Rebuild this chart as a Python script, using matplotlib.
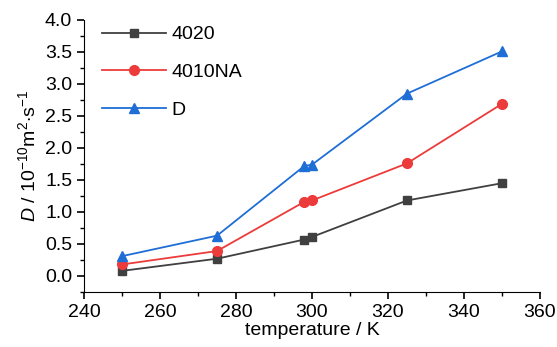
import matplotlib

matplotlib.use("Agg")

import matplotlib.pyplot as plt
from matplotlib.ticker import MultipleLocator, FormatStrFormatter

plt.rcParams["font.family"] = ["Liberation Sans", "DejaVu Sans"]
plt.rcParams["mathtext.fontset"] = "custom"
plt.rcParams["mathtext.rm"] = "Liberation Sans"
plt.rcParams["mathtext.it"] = "Liberation Sans:italic"

temperature = [250, 275, 298, 300, 325, 350]
d_4020 = [0.08, 0.27, 0.57, 0.61, 1.18, 1.45]
d_4010na = [0.18, 0.39, 1.16, 1.18, 1.76, 2.69]
d_total = [0.31, 0.63, 1.72, 1.74, 2.85, 3.51]

fig = plt.figure(figsize=(5.57, 3.47), dpi=100)
ax = fig.add_axes([84 / 557, 1 - 292 / 347, 456 / 557, 272 / 347])

ax.plot(temperature, d_4020, color="#404040", marker="s", markersize=6, lw=1.3, label="4020")
ax.plot(temperature, d_4010na, color="#ec3b3b", marker="o", markersize=7, lw=1.3, label="4010NA")
ax.plot(temperature, d_total, color="#1f6ed6", marker="^", markersize=7, lw=1.3, label="D")

ax.set_xlim(240, 360)
ax.set_ylim(-0.25, 4.0)
ax.xaxis.set_major_locator(MultipleLocator(20))
ax.xaxis.set_minor_locator(MultipleLocator(10))
ax.yaxis.set_major_locator(MultipleLocator(0.5))
ax.yaxis.set_minor_locator(MultipleLocator(0.25))
ax.yaxis.set_major_formatter(FormatStrFormatter("%.1f"))

for side in ("top", "right"):
    ax.spines[side].set_visible(False)
ax.tick_params(which="major", direction="out", length=5, width=1.2, labelsize=14)
ax.tick_params(which="minor", direction="out", length=3, width=1.0)

ax.set_xlabel("temperature / K", fontsize=14, labelpad=1)
ax.set_ylabel(r"$D$ / 10$^{\mathregular{-10}}$m$^{\mathregular{2}}$$\cdot$s$^{\mathregular{-1}}$",
              fontsize=14, labelpad=4)

ax.legend(loc="upper left", bbox_to_anchor=(0.0, 1.043), frameon=False, fontsize=14,
          handlelength=3.3, labelspacing=1.03, handletextpad=0.3)

fig.savefig("out.png", dpi=100)
